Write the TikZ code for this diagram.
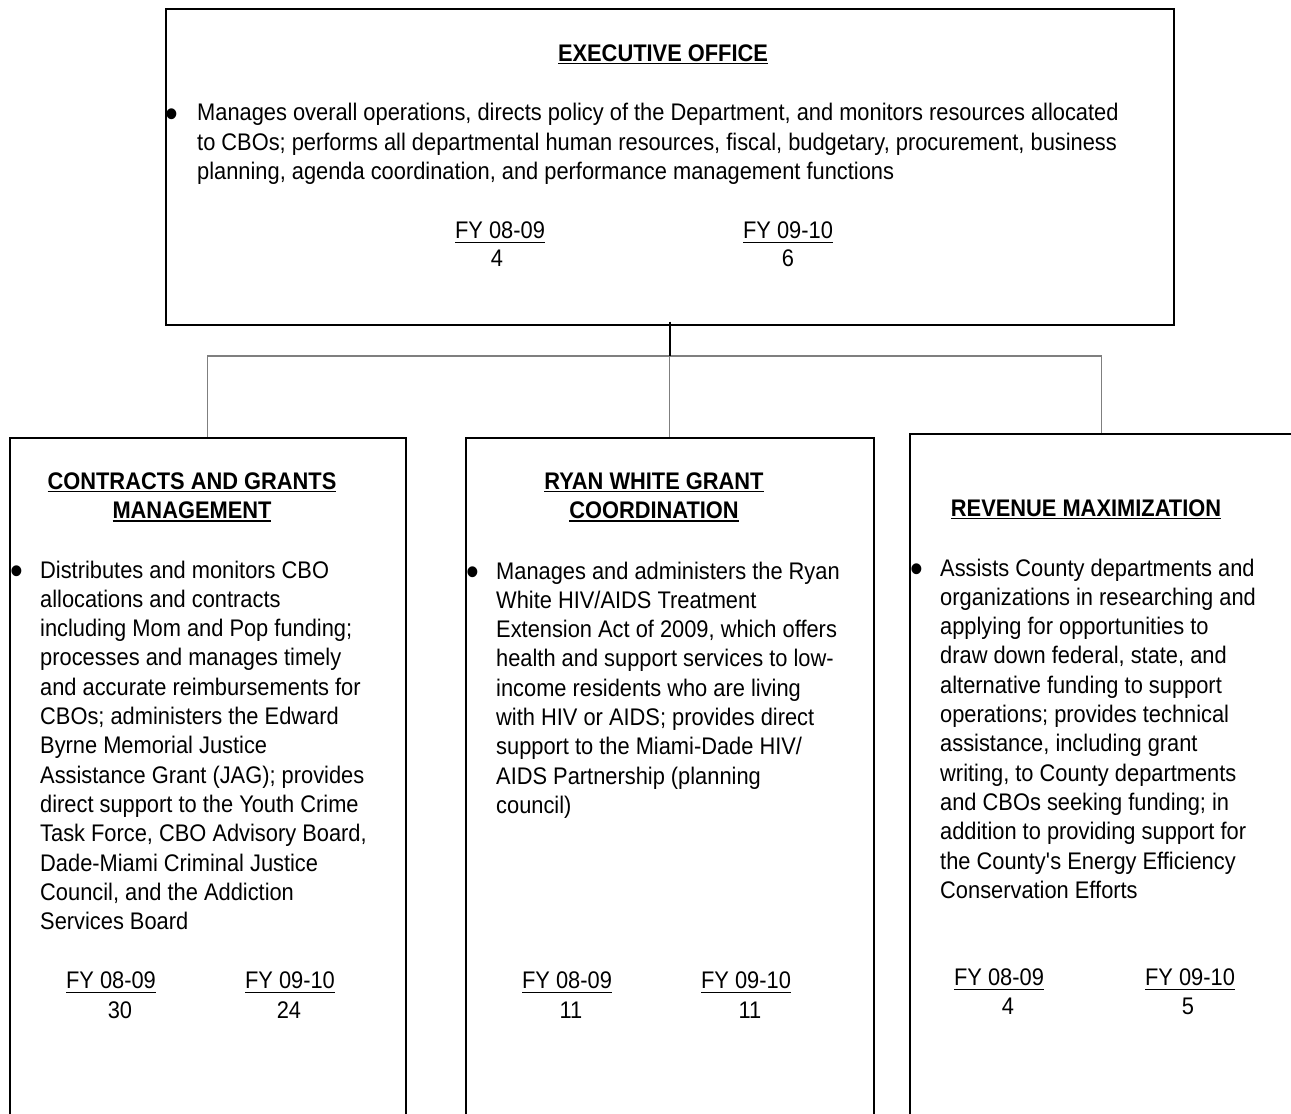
\documentclass[tikz,border=0pt]{standalone}
\usepackage{fontspec}
\setmainfont{Liberation Sans}[FakeStretch=0.91]
\usetikzlibrary{positioning}
\definecolor{orggray}{HTML}{7F7F7F}
\definecolor{orgdark}{HTML}{000000}
\newcommand{\orgul}[3]{\setbox0=\hbox{#1}\rlap{\rule[-#2]{\wd0}{#3}}\box0}
\newcommand{\ttlul}[1]{\orgul{#1}{3pt}{1.8pt}}
\newcommand{\fyul}[1]{\orgul{#1}{4.3pt}{1.3pt}}
\tikzset{
  unitbox/.style={draw=orgdark,line width=1.6pt,anchor=north west,inner sep=0pt},
  txt/.style={font=\fontsize{24}{29.3}\selectfont,inner sep=0pt,align=left,anchor=north west},
  ttl/.style={font=\fontsize{24}{29.3}\selectfont\bfseries,inner sep=0pt,align=center,anchor=north},
  dot/.style={font=\fontsize{40}{40}\selectfont,inner sep=0pt,anchor=center},
  fyl/.style={font=\fontsize{24}{29.3}\selectfont,inner sep=0pt,anchor=base},
  stem/.style={draw=orgdark,line width=1.6pt},
  link/.style={draw=orggray,line width=1.2pt},
}
\begin{document}
\begin{tikzpicture}[x=1pt,y=-1pt]
\useasboundingbox (0,0) rectangle (1291,1114);
\clip (0,0) rectangle (1291,1114);
% boxes
\node[unitbox,minimum width=1008pt,minimum height=316pt] (exec) at (165,8) {};
\node[unitbox,minimum width=396pt,minimum height=700pt] (cgm) at (9,437) {};
\node[unitbox,minimum width=408pt,minimum height=700pt] (ryan) at (465,437) {};
\node[unitbox,minimum width=384pt,minimum height=700pt] (rev) at (909,433) {};
% connectors
\coordinate (bus) at (exec.south |- 0,356);
\draw[link] (cgm.north) |- (bus) -| (rev.north);
\draw[link] (bus) -- (ryan.north);
\draw[stem] ([yshift=4pt]exec.south) -- (bus);
% titles
\node[ttl] (t0) at (663,44.4) {\ttlul{EXECUTIVE OFFICE}};
\node[ttl] (t1) at (192,472.4) {\ttlul{CONTRACTS AND GRANTS}\\\ttlul{MANAGEMENT}};
\node[ttl] (t2) at (654,472.4) {\ttlul{RYAN WHITE GRANT}\\\ttlul{COORDINATION}};
\node[ttl] (t3) at (1086,499.4) {\ttlul{REVENUE MAXIMIZATION}};
% bullets
\node[dot] (d0) at (172,118) {\textbullet};
\node[dot] (d1) at (17,575) {\textbullet};
\node[dot] (d2) at (473,576) {\textbullet};
\node[dot] (d3) at (917,573) {\textbullet};
% body texts
\node[txt] (b0) at (197,103.4)
 {Manages overall operations, directs policy of the Department, and monitors resources allocated\\
  to CBOs; performs all departmental human resources, fiscal, budgetary, procurement, business\\
  planning, agenda coordination, and performance management functions};
\node[txt] (b1) at (40,560.4)
 {Distributes and monitors CBO\\allocations and contracts\\including Mom and Pop funding;\\
  processes and manages timely\\and accurate reimbursements for\\CBOs; administers the Edward\\
  Byrne Memorial Justice\\Assistance Grant (JAG); provides\\direct support to the Youth Crime\\
  Task Force, CBO Advisory Board,\\Dade-Miami Criminal Justice\\Council, and the Addiction\\
  Services Board};
\node[txt] (b2) at (496,561.4)
 {Manages and administers the Ryan\\White HIV/AIDS Treatment\\Extension Act of 2009, which offers\\
  health and support services to low-\\income residents who are living\\with HIV or AIDS; provides direct\\
  support to the Miami-Dade HIV/\\AIDS Partnership (planning\\council)};
\node[txt] (b3) at (940,558.4)
 {Assists County departments and\\organizations in researching and\\applying for opportunities to\\
  draw down federal, state, and\\alternative funding to support\\operations; provides technical\\
  assistance, including grant\\writing, to County departments\\and CBOs seeking funding; in\\
  addition to providing support for\\the County\textquotesingle s Energy Efficiency\\Conservation Efforts};
% positions per fiscal year
\foreach \fx/\fy/\yr/\nx/\ny/\num [count=\i] in {
  500/230/08-09/497/258/4, 788/230/09-10/788/258/6,
  111/980/08-09/120/1010/30, 290/980/09-10/289/1010/24,
  567/980/08-09/571/1010/11, 746/980/09-10/750/1010/11,
  999/977/08-09/1008/1006/4, 1190/977/09-10/1188/1006/5} {
  \node[fyl] (fy\i) at (\fx,\fy+8.6) {\fyul{FY \yr}};
  \node[fyl] (n\i) at (\nx,\ny+8.6) {\num};
}
\end{tikzpicture}
\end{document}
